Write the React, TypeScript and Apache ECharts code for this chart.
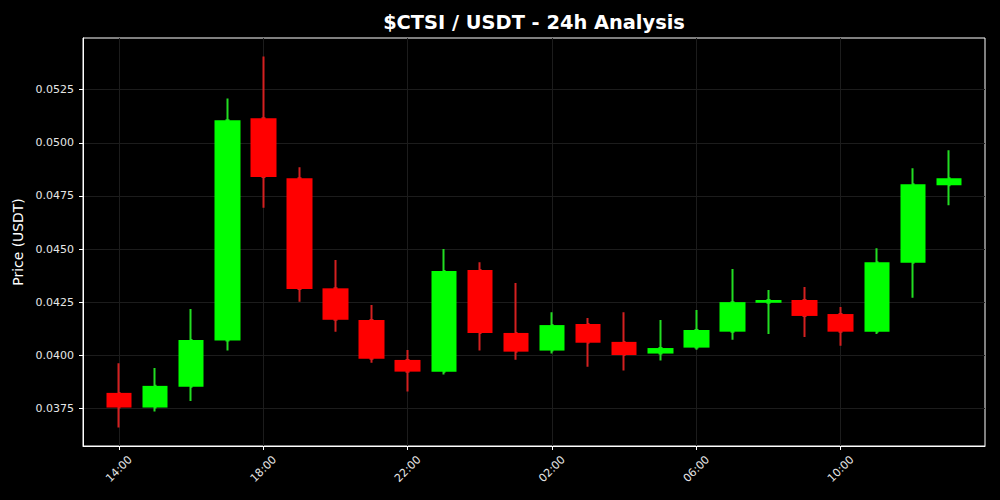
import React, { useEffect, useRef } from 'react';
import * as echarts from 'echarts';

const hours = [
  '14:00', '15:00', '16:00', '17:00', '18:00', '19:00', '20:00', '21:00',
  '22:00', '23:00', '00:00', '01:00', '02:00', '03:00', '04:00', '05:00',
  '06:00', '07:00', '08:00', '09:00', '10:00', '11:00', '12:00', '13:00',
];
const opens = [
  0.03823, 0.03754, 0.03852, 0.04069, 0.05115, 0.04833, 0.04315, 0.04166,
  0.03978, 0.03923, 0.04401, 0.04105, 0.04022, 0.04147, 0.04063, 0.04008,
  0.04036, 0.04111, 0.04247, 0.0426, 0.04194, 0.04111, 0.04435, 0.048,
];
const closes = [
  0.03754, 0.03856, 0.04072, 0.05106, 0.04839, 0.04312, 0.04167, 0.03984,
  0.03923, 0.04396, 0.04105, 0.04017, 0.04142, 0.04059, 0.04001, 0.04034,
  0.04119, 0.0425, 0.0426, 0.04185, 0.04111, 0.04438, 0.04805, 0.04833,
];
const lows = [
  0.0366, 0.03735, 0.03785, 0.04022, 0.04694, 0.04252, 0.04111, 0.03965,
  0.03829, 0.03909, 0.04022, 0.03979, 0.04008, 0.03946, 0.03928, 0.03975,
  0.04026, 0.04073, 0.041, 0.04086, 0.04045, 0.041, 0.04271, 0.04706,
];
const highs = [
  0.03962, 0.0394, 0.04218, 0.05208, 0.05406, 0.04885, 0.04448, 0.04236,
  0.04025, 0.045, 0.04438, 0.0434, 0.04203, 0.04175, 0.04203, 0.04166,
  0.04213, 0.04406, 0.04307, 0.04321, 0.04227, 0.04504, 0.0488, 0.04965,
];
const priceTicks = [0.0375, 0.04, 0.0425, 0.045, 0.0475, 0.05, 0.0525];
const hourTickLabels = ['14:00', '18:00', '22:00', '02:00', '06:00', '10:00'];
const yMin = 0.03573;
const yMax = 0.05493;

const FONT = 'DejaVu Sans';

export default function App() {
  const ref = useRef<HTMLDivElement>(null);
  useEffect(() => {
    if (!ref.current) return;
    const chart = echarts.init(ref.current, null, { renderer: 'svg' });
    const categories = ['', ...hours, ' '];
    const pad = ['-', '-', '-', '-'];
    const wickData = [pad, ...hours.map((_, i) => [opens[i], closes[i], lows[i], highs[i]])];
    const bodyData = [
      pad,
      ...hours.map((_, i) => [
        opens[i],
        closes[i],
        Math.min(opens[i], closes[i]),
        Math.max(opens[i], closes[i]),
      ]),
    ];
    const isMajor = (idx: number) =>
      idx >= 1 && idx <= hours.length && hourTickLabels.includes(categories[idx]);

    chart.setOption({
      animation: false,
      backgroundColor: '#000000',
      title: {
        text: '$CTSI / USDT - 24h Analysis',
        left: 534,
        top: 13,
        padding: 0,
        textAlign: 'center',
        textStyle: { color: '#ffffff', fontFamily: FONT, fontWeight: 'bold', fontSize: 19.4 },
      },
      grid: {
        left: 83,
        right: 15,
        top: 38,
        bottom: 54,
        show: true,
        borderColor: '#ffffff',
        borderWidth: 1,
        backgroundColor: 'transparent',
      },
      xAxis: {
        type: 'category',
        data: categories,
        boundaryGap: false,
        axisLine: { show: true, lineStyle: { color: '#ffffff', width: 1 } },
        axisTick: {
          show: true,
          interval: (idx: number) => isMajor(idx),
          length: 4,
          lineStyle: { color: '#ffffff' },
        },
        axisLabel: {
          show: true,
          interval: (idx: number) => isMajor(idx),
          rotate: 45,
          align: 'center',
          verticalAlign: 'middle',
          margin: 23,
          color: '#e6e6e6',
          fontFamily: FONT,
          fontSize: 11,
        },
        splitLine: {
          show: true,
          interval: (idx: number) => isMajor(idx),
          lineStyle: { color: '#1c1c1c', width: 1 },
        },
      },
      yAxis: {
        type: 'value',
        min: yMin,
        max: yMax,
        scale: true,
        name: 'Price (USDT)',
        nameLocation: 'middle',
        nameRotate: 90,
        nameGap: 50,
        nameTextStyle: { color: '#ffffff', fontFamily: FONT, fontSize: 13.9 },
        axisLine: { show: true, lineStyle: { color: '#ffffff', width: 1 } },
        axisTick: {
          show: true,
          customValues: priceTicks,
          length: 4,
          lineStyle: { color: '#ffffff' },
        },
        axisLabel: {
          show: true,
          customValues: priceTicks,
          formatter: (v: number) => v.toFixed(4),
          margin: 9,
          color: '#e6e6e6',
          fontFamily: FONT,
          fontSize: 11,
        },
        splitLine: { show: true, lineStyle: { color: '#1c1c1c', width: 1 } },
      },
      series: [
        {
          name: 'wick',
          type: 'candlestick',
          data: wickData,
          barWidth: 2,
          itemStyle: {
            color: '#22dd22',
            color0: '#d42020',
            borderColor: '#22dd22',
            borderColor0: '#d42020',
            borderWidth: 2,
          },
          z: 2,
        },
        {
          name: 'body',
          type: 'candlestick',
          data: bodyData,
          barWidth: 26,
          itemStyle: {
            color: '#00ff00',
            color0: '#ff0000',
            borderColor: '#00ff00',
            borderColor0: '#ff0000',
            borderWidth: 0,
          },
          z: 3,
        },
      ],
    });
    return () => chart.dispose();
  }, []);
  return (
    <div
      ref={ref}
      style={{ position: 'fixed', left: 0, top: 0, width: 1000, height: 500 }}
    />
  );
}
